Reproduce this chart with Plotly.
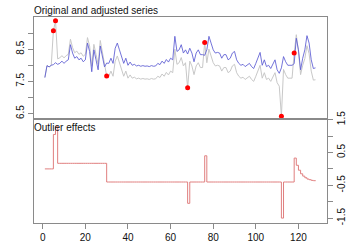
import plotly.graph_objects as go

# ---- data ----
time_index = list(range(1, 129))

adjusted = [
    7.62, 7.99, 7.95, 8.00, 8.02, 8.08, 8.03, 8.06, 8.13, 8.06,
    8.13, 8.17, 8.64, 8.38, 8.22, 8.27, 8.17, 8.22, 8.11, 8.17,
    8.69, 8.43, 7.80, 8.48, 8.17, 7.86, 8.60, 8.22, 7.95, 8.07,
    8.06, 8.22, 8.06, 8.53, 8.69, 8.48, 8.27, 8.06, 8.22, 8.00,
    8.10, 8.00, 8.03, 7.98, 8.00, 7.97, 7.99, 7.97, 7.98, 7.96,
    7.99, 7.97, 7.98, 8.06, 8.02, 8.13, 8.06, 8.18, 8.10, 8.22,
    8.17, 8.90, 8.43, 8.48, 8.64, 8.38, 8.48, 8.35, 8.53, 8.38,
    8.11, 8.38, 8.48, 8.33, 8.33, 8.31, 8.48, 8.90, 8.69, 8.48,
    8.38, 8.40, 8.38, 8.22, 8.33, 8.33, 8.17, 8.22, 8.38, 8.43,
    8.17, 8.06, 8.00, 8.03, 7.96, 8.00, 8.06, 7.96, 7.90, 8.06,
    8.22, 8.40, 8.00, 8.17, 7.96, 8.00, 7.90, 8.06, 8.17, 7.86,
    7.75, 7.92, 8.27, 8.11, 8.00, 8.00, 8.00, 8.05, 8.84, 8.48,
    7.86, 8.22, 8.48, 8.92, 8.69, 8.17, 7.90, 7.92,
]

effects = [
    0.00, 0.00, 0.00, 0.00, 1.05, 1.30, 0.17, 0.17, 0.17, 0.17,
    0.17, 0.17, 0.17, 0.17, 0.17, 0.17, 0.17, 0.17, 0.17, 0.17,
    0.17, 0.17, 0.17, 0.17, 0.17, 0.17, 0.17, 0.17, 0.17, -0.40,
    -0.40, -0.40, -0.40, -0.40, -0.40, -0.40, -0.40, -0.40, -0.40, -0.40,
    -0.40, -0.40, -0.40, -0.40, -0.40, -0.40, -0.40, -0.40, -0.40, -0.40,
    -0.40, -0.40, -0.40, -0.40, -0.40, -0.40, -0.40, -0.40, -0.40, -0.40,
    -0.40, -0.40, -0.40, -0.40, -0.40, -0.40, -0.40, -1.05, -0.40, -0.40,
    -0.40, -0.40, -0.40, -0.40, -0.40, 0.40, -0.40, -0.40, -0.40, -0.40,
    -0.40, -0.40, -0.40, -0.40, -0.40, -0.40, -0.40, -0.40, -0.40, -0.40,
    -0.40, -0.40, -0.40, -0.40, -0.40, -0.40, -0.40, -0.40, -0.40, -0.40,
    -0.40, -0.40, -0.40, -0.40, -0.40, -0.40, -0.40, -0.40, -0.40, -0.40,
    -0.40, -1.50, -0.40, -0.40, -0.40, -0.40, -0.40, 0.33, 0.11, -0.04,
    -0.15, -0.22, -0.27, -0.31, -0.33, -0.35, -0.36, -0.37,
]

# original series = adjusted series + outlier effects
original = [a + e for a, e in zip(adjusted, effects)]

outlier_times = [5, 6, 30, 68, 76, 112, 118]

x_ticks = [0, 20, 40, 60, 80, 100, 120]
top_tickvals = [6.5, 7.0, 7.5, 8.0, 8.5, 9.0]
top_ticktext = ["6.5", "", "7.5", "", "8.5", ""]
bot_tickvals = [-1.5, -1.0, -0.5, 0.0, 0.5, 1.0, 1.5]
bot_ticktext = ["-1.5", "", "-0.5", "", "0.5", "", "1.5"]

# ---- figure ----
AX = "#8a8a8a"
TXT = "#111111"
FONT = "Liberation Sans, Arial, sans-serif"

fig = go.Figure()

fig.add_trace(go.Scatter(x=time_index, y=original, mode="lines",
                         line=dict(color="#c8c8c8", width=1),
                         xaxis="x", yaxis="y", showlegend=False))
fig.add_trace(go.Scatter(x=time_index, y=adjusted, mode="lines",
                         line=dict(color="rgba(90,90,210,0.85)", width=1),
                         xaxis="x", yaxis="y", showlegend=False))
fig.add_trace(go.Scatter(x=outlier_times,
                         y=[original[t - 1] for t in outlier_times],
                         mode="markers",
                         marker=dict(color="#ff0000", size=5),
                         xaxis="x", yaxis="y", showlegend=False))
fig.add_trace(go.Scatter(x=time_index, y=effects, mode="lines",
                         line=dict(color="#e07f7f", width=1, shape="hv"),
                         xaxis="x2", yaxis="y2", showlegend=False))

xr = [-4.1, 133.4]
split = 0.503

fig.update_layout(
    width=355, height=246,
    margin=dict(l=34, r=28, t=17, b=23),
    paper_bgcolor="white", plot_bgcolor="white",
    font=dict(family=FONT, size=10, color=TXT),
    xaxis=dict(domain=[0, 1], anchor="y", range=xr, showline=True, mirror=True,
               linecolor=AX, linewidth=1, showgrid=False, zeroline=False,
               showticklabels=False, ticks="", automargin=False),
    yaxis=dict(domain=[split, 1], anchor="x", range=[6.32, 9.50],
               showline=True, mirror=True, linecolor=AX, linewidth=1,
               showgrid=False, zeroline=False, ticks="outside", ticklen=5,
               tickcolor=AX, tickvals=top_tickvals, ticktext=top_ticktext,
               tickangle=-90, tickfont=dict(size=10, color=TXT),
               automargin=False),
    xaxis2=dict(domain=[0, 1], anchor="y2", range=xr, showline=True, mirror=True,
                linecolor=AX, linewidth=1, showgrid=False, zeroline=False,
                ticks="outside", ticklen=5, tickcolor=AX, tickvals=x_ticks,
                tickfont=dict(size=10, color=TXT), automargin=False),
    yaxis2=dict(domain=[0, split], anchor="x2", range=[-1.65, 1.51], side="right",
                showline=True, mirror=True, linecolor=AX, linewidth=1,
                showgrid=False, zeroline=False, ticks="outside", ticklen=5,
                tickcolor=AX, tickvals=bot_tickvals, ticktext=bot_ticktext,
                tickangle=-90, tickfont=dict(size=10, color=TXT),
                automargin=False),
    annotations=[
        dict(text="Original and adjusted series", xref="paper", yref="paper",
             x=0, y=1, xanchor="left", yanchor="bottom", showarrow=False,
             xshift=-2, yshift=-1, font=dict(size=10, color=TXT)),
        dict(text="Outlier effects", xref="paper", yref="paper",
             x=0, y=split, xanchor="left", yanchor="top", showarrow=False,
             xshift=-2, yshift=-1, font=dict(size=10, color=TXT)),
    ],
)

fig.write_html("out.html",
               config={"displayModeBar": False},
               post_script="document.body.style.margin='0';"
                           "document.documentElement.style.overflow='hidden';")
